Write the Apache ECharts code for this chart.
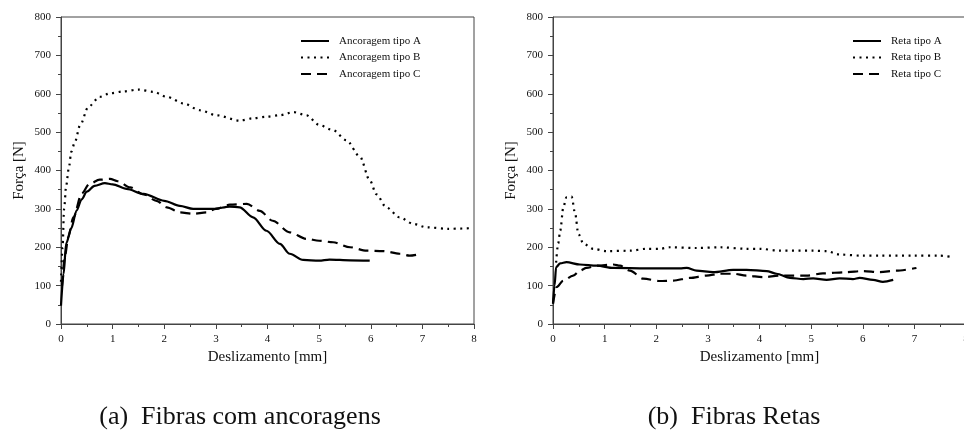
<!DOCTYPE html>
<html>
<head>
<meta charset="utf-8">
<script src="https://cdn.jsdelivr.net/npm/echarts@6/dist/echarts.min.js"></script>
<style>
  html, body { margin: 0; padding: 0; background: #fff; }
  #main { width: 964px; height: 432px; }
</style>
</head>
<body>
<div id="main"></div>
<script>
// dados: [deslizamento mm, força N]
var ancoragemA = [[0,48],[0.05,130],[0.1,210],[0.2,250],[0.3,295],[0.4,325],[0.5,345],[0.65,360],[0.85,367],[1.0,364],[1.27,352],[1.6,339],[2.0,321],[2.3,308],[2.56,300],[2.95,300],[3.27,306],[3.46,304],[3.72,278],[3.98,243],[4.24,209],[4.43,183],[4.69,167],[5.0,165],[5.2,168],[5.6,166],[5.98,165]];
var ancoragemB = [[0,110],[0.03,200],[0.06,300],[0.1,360],[0.15,405],[0.2,449],[0.27,475],[0.37,518],[0.53,566],[0.75,592],[0.95,601],[1.2,606],[1.5,611],[1.79,605],[2.05,592],[2.37,575],[2.69,557],[3.01,544],[3.46,530],[3.72,536],[3.98,540],[4.24,544],[4.5,552],[4.75,544],[5.01,518],[5.27,505],[5.53,479],[5.79,436],[5.98,375],[6.11,338],[6.3,304],[6.56,278],[6.82,261],[7.08,252],[7.5,248],[7.98,250]];
var ancoragemC = [[0.02,100],[0.08,180],[0.14,226],[0.24,278],[0.4,340],[0.55,365],[0.75,376],[0.95,378],[1.1,372],[1.34,356],[1.6,338],[1.85,321],[2.05,304],[2.3,291],[2.56,287],[2.82,291],[3.0,300],[3.27,311],[3.6,313],[3.85,295],[4.1,269],[4.43,239],[4.75,222],[5.0,217],[5.27,213],[5.6,200],[5.92,191],[6.24,190],[6.56,183],[6.75,178],[6.98,183]];

var retaA = [[0,53],[0.03,100],[0.06,148],[0.14,158],[0.26,161],[0.52,155],[0.85,152],[1.17,146],[1.81,145],[2.46,145],[2.59,146],[2.78,139],[3.1,135],[3.49,141],[3.75,141],[4.14,138],[4.33,131],[4.59,120],[4.85,117],[5.04,119],[5.3,115],[5.55,119],[5.81,117],[5.94,120],[6.2,115],[6.39,110],[6.59,115]];
var retaB = [[0.06,160],[0.1,210],[0.14,243],[0.2,304],[0.26,330],[0.36,332],[0.43,287],[0.49,235],[0.59,209],[0.78,196],[1.04,190],[1.49,191],[1.81,196],[2.07,196],[2.26,200],[2.78,198],[3.23,200],[3.75,196],[4.0,196],[4.39,191],[5.04,191],[5.3,190],[5.55,181],[6.0,178],[6.33,178],[6.97,178],[7.49,178],[7.75,174]];
var retaC = [[0,53],[0.07,96],[0.2,113],[0.39,126],[0.52,139],[0.65,146],[0.85,152],[1.17,155],[1.3,152],[1.49,139],[1.75,118],[2.07,112],[2.33,113],[2.65,120],[2.97,126],[3.23,131],[3.49,131],[3.75,126],[4.07,122],[4.39,126],[4.65,126],[4.91,126],[5.23,132],[5.68,135],[6.0,138],[6.33,135],[6.65,139],[7.04,146]];

var nomesAncoragem = ['Ancoragem tipo A', 'Ancoragem tipo B', 'Ancoragem tipo C'];
var nomesReta = ['Reta tipo A', 'Reta tipo B', 'Reta tipo C'];
var legendas = ['(a)  Fibras com ancoragens', '(b)  Fibras Retas'];

var fonte = '"Liberation Serif", "Times New Roman", serif';
var estilos = [
    {type: 'solid', width: 2.2},
    {type: [2, 4.5], width: 2.2},
    {type: [10, 6], width: 2.2}
];

function eixoX(idx) {
    return {
        type: 'value', gridIndex: idx, min: 0, max: 8, interval: 1,
        name: 'Deslizamento [mm]', nameLocation: 'middle', nameGap: 21,
        nameTextStyle: {fontFamily: fonte, fontSize: 15, color: '#111'},
        axisLine: {show: true, onZero: false, lineStyle: {color: '#444', width: 1}},
        axisTick: {show: true, length: 5, lineStyle: {color: '#444'}},
        minorTick: {show: true, splitNumber: 2, length: 3, lineStyle: {color: '#444'}},
        axisLabel: {fontFamily: fonte, fontSize: 11, color: '#111', margin: 10},
        splitLine: {show: false}
    };
}

function eixoY(idx) {
    return {
        type: 'value', gridIndex: idx, min: 0, max: 800, interval: 100,
        name: 'Força [N]', nameLocation: 'middle', nameGap: 34,
        nameTextStyle: {fontFamily: fonte, fontSize: 15, color: '#111'},
        axisLine: {show: true, onZero: false, lineStyle: {color: '#444', width: 1}},
        axisTick: {show: true, length: 5, lineStyle: {color: '#444'}},
        minorTick: {show: true, splitNumber: 2, length: 3, lineStyle: {color: '#444'}},
        axisLabel: {fontFamily: fonte, fontSize: 11, color: '#111', margin: 10},
        splitLine: {show: false}
    };
}

function serie(nome, dados, idx, estilo) {
    return {
        name: nome, type: 'line', data: dados,
        xAxisIndex: idx, yAxisIndex: idx,
        smooth: 0.3, smoothMonotone: 'x',
        symbol: 'none', animation: false,
        itemStyle: {color: '#000'},
        lineStyle: {color: '#000', type: estilo.type, width: estilo.width}
    };
}

function legenda(nomes, esquerda) {
    return {
        data: nomes, orient: 'vertical', left: esquerda, top: 30,
        itemWidth: 28, itemHeight: 12, itemGap: 4.5,
        itemStyle: {opacity: 0},
        textStyle: {fontFamily: fonte, fontSize: 11, color: '#111', padding: [0, 0, 0, 5], lineHeight: 12}
    };
}

var option = {
    backgroundColor: '#fff',
    animation: false,
    grid: [
        {left: 61, top: 17, width: 413, height: 307, show: true, borderColor: '#444', borderWidth: 1, outerBoundsMode: 'none'},
        {left: 553, top: 17, width: 413, height: 307, show: true, borderColor: '#444', borderWidth: 1, outerBoundsMode: 'none'}
    ],
    xAxis: [eixoX(0), eixoX(1)],
    yAxis: [eixoY(0), eixoY(1)],
    legend: [legenda(nomesAncoragem, 295), legenda(nomesReta, 847)],
    series: [
        serie(nomesAncoragem[0], ancoragemA, 0, estilos[0]),
        serie(nomesAncoragem[1], ancoragemB, 0, estilos[1]),
        serie(nomesAncoragem[2], ancoragemC, 0, estilos[2]),
        serie(nomesReta[0], retaA, 1, estilos[0]),
        serie(nomesReta[1], retaB, 1, estilos[1]),
        serie(nomesReta[2], retaC, 1, estilos[2])
    ],
    graphic: [
        {type: 'text', x: 240, y: 417, style: {text: legendas[0], font: '26px ' + fonte, fill: '#111', textAlign: 'center', textVerticalAlign: 'middle'}},
        {type: 'text', x: 734, y: 417, style: {text: legendas[1], font: '26px ' + fonte, fill: '#111', textAlign: 'center', textVerticalAlign: 'middle'}}
    ]
};

var chart = echarts.init(document.getElementById('main'));
chart.setOption(option);
</script>
</body>
</html>
